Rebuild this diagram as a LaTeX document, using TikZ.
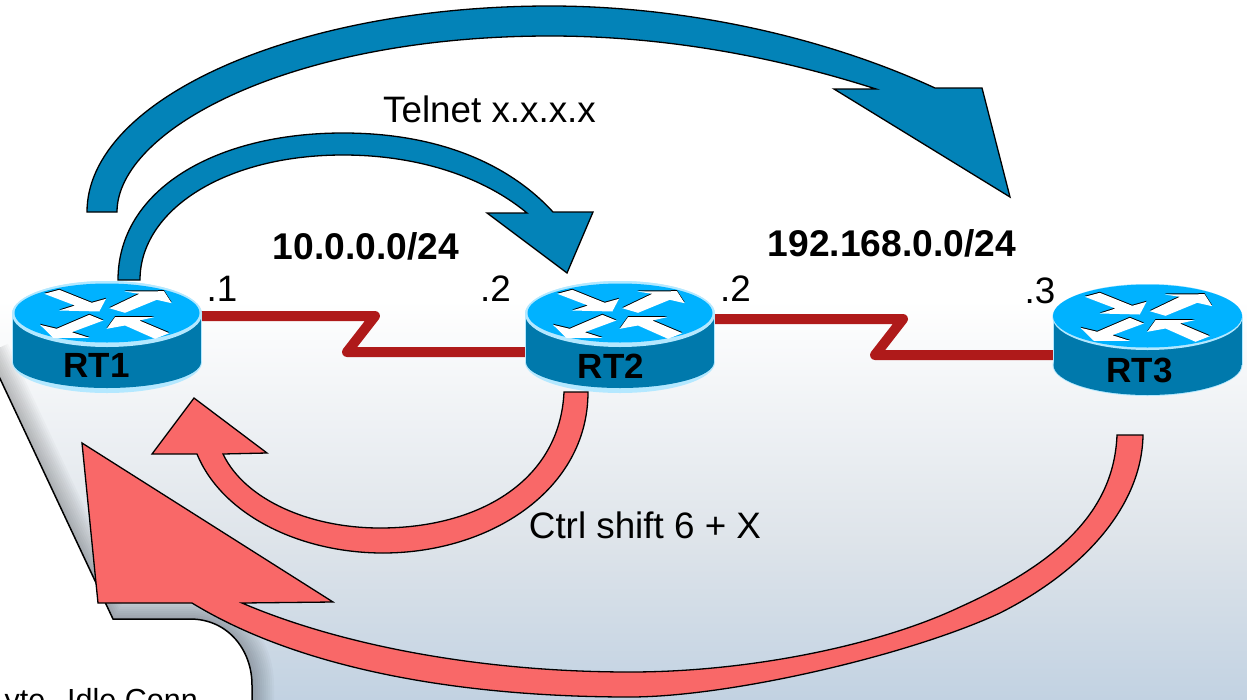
\documentclass[tikz,border=0pt]{standalone}
\usepackage{fontspec}
\setmainfont{Liberation Sans}
\definecolor{arrowblue}{HTML}{0383B8}
\definecolor{arrowred}{HTML}{F96868}
\definecolor{linkred}{HTML}{AF1A1A}
\definecolor{rtrtop}{HTML}{00B2FF}
\definecolor{rtrbody}{HTML}{0079AC}
\definecolor{rtrband}{HTML}{B4E8FF}
\definecolor{bgbottom}{HTML}{C2D2E2}
\definecolor{bgmid}{HTML}{DEE4EA}
\tikzset{
  big/.style={font=\fontsize{36.8}{40}\selectfont,inner sep=0pt,anchor=base,text=black},
  bigbold/.style={big,font=\fontsize{37.2}{40}\selectfont\bfseries},
  routertext/.style={big,font=\fontsize{35}{40}\selectfont\bfseries},
  routerbox/.style={minimum width=190pt,minimum height=112pt,inner sep=0pt},
  block/.style={draw=black,line width=1.3pt,line join=miter,miter limit=8},
  bluearrow/.style={block,fill=arrowblue},
  redarrow/.style={block,fill=arrowred},
  serial/.style={draw=linkred,line width=10pt,line join=round},
}
\newcommand{\arrowshape}[1]{%
  \fill[#1] (-62.7,-19.7)--(-47.7,-23.7)--(-15.3,-10.7)--(-1,-14.7)--(-7.7,-2)--(-47.7,-3)--(-32,-8)--cycle;
  \fill[#1] (2.3,-5.3)--(32.3,-19.7)--(17.3,-22)--(57,-22.3)--(64.7,-10.3)--(49.7,-13.7)--(18,-0.7)--cycle;
  \fill[#1] (-3.7,7)--(-17.7,1.3)--(-50.3,15.3)--(-67,11.3)--(-53.7,24.3)--(-17.7,24.3)--(-35.3,18.7)--cycle;
  \fill[#1] (-0.3,15.3)--(8,3.7)--(47,3.7)--(32.3,7)--(62.3,19.7)--(48,25.3)--(18,12)--cycle;
}
% #1 centre x, #2 centre y of the top face, #3 width of the pale band
\newcommand{\routericon}[3]{%
  \begin{scope}[shift={(#1,#2)}]
    \fill[rtrband] (-95,1) rectangle (95,49);
    \fill[rtrband] (0,49) circle[x radius=95,y radius=31];
    \fill[rtrband] (0,1) circle[x radius=95,y radius=33];
    \fill[rtrbody] (-94,1) rectangle (94,49);
    \fill[rtrbody] (0,49) circle[x radius=94,y radius={31-#3}];
    \fill[rtrband] (0,1) circle[x radius=95,y radius=33];
    \fill[rtrtop] (0,0) circle[x radius={95-#3/2},y radius={33-#3/2-1}];
    \begin{scope}[yshift=0.5pt]
      \arrowshape{black}
    \end{scope}
    \begin{scope}[yshift=-0.5pt]
      \arrowshape{white}
    \end{scope}
  \end{scope}
}
\begin{document}
\begin{tikzpicture}[x=1pt,y=-1pt]
\useasboundingbox (0,0) rectangle (1247,699);
\clip (0,0) rectangle (1247,699);
% background of the callout
\shade[top color=white,bottom color=bgmid] (0,300) rectangle (1247,540);
\shade[top color=bgmid,bottom color=bgbottom] (0,540) rectangle (1247,699);
% soft shadow of the callout box
\foreach \w in {44,40,...,4}{
  \draw[black,opacity=0.024,line width=\w pt,line join=round]
    (-12,353) -- (113,619) -- (190,619) .. controls (228,619) and (252,650) .. (252,685) -- (252,710);
}
% callout box
\filldraw[fill=white,draw=black,line width=1.5pt]
  (-12,353) -- (113,619) -- (190,619) .. controls (228,619) and (252,650) .. (252,685) -- (252,710) -- (-12,710) -- cycle;
\node[big,anchor=base east,font=\fontsize{30.5}{34}\selectfont] (sessions) at (198,710) {yte\hspace{22pt}Idle Conn};
% routers (placement)
\node[routerbox] (rt1) at (107,337) {};
\node[routerbox] (rt2) at (620,337) {};
\node[routerbox] (rt3) at (1147.5,339) {};
% serial links
\coordinate (za) at (375,316);
\coordinate (zb) at (347,352);
\coordinate (zc) at (903,319);
\coordinate (zd) at (875,355);
\draw[serial] (rt1 |- za) -- (za) -- (zb) -- (rt2 |- zb);
\draw[serial] (rt2 |- zc) -- (zc) -- (zd) -- (rt3 |- zd);
\routericon{107}{313}{5}
\routericon{620}{313}{5}
\routericon{1147.5}{316}{1}
\node[routertext] (rt1t) at (96.5,377) {RT1};
\node[routertext] (rt2t) at (611,378) {RT2};
\node[routertext] (rt3t) at (1139.5,382) {RT3};
% block arrows
\path[redarrow] (564,392) .. controls (560,480) and (480,528) .. (380,528)
  .. controls (310,528) and (245,500) .. (223,454) -- (267,453) -- (194,398) -- (152,454) -- (197,454)
  .. controls (222,515) and (300,553) .. (383,553)
  .. controls (490,553) and (588,490) .. (588,392) -- cycle;
\path[redarrow] (1117,435) .. controls (1114,510) and (1060,562) .. (960,607)
  .. controls (880,645) and (750,672) .. (630,672)
  .. controls (480,672) and (340,645) .. (242,603) -- (333,602) -- (82,443) -- (98,603) -- (192,603)
  .. controls (310,675) and (480,697) .. (630,697)
  .. controls (730,697) and (910,655) .. (1000,613)
  .. controls (1085,570) and (1142,505) .. (1143,435) -- cycle;
\path[bluearrow] (87,212) .. controls (87,99) and (295,6) .. (550,6)
  .. controls (680,6) and (820,35) .. (935,88) -- (982,88) -- (1010,197) -- (834,89) -- (876,89)
  .. controls (770,55) and (660,36) .. (550,36)
  .. controls (290,36) and (117,130) .. (117,212) -- cycle;
\path[bluearrow] (118,280) .. controls (118,190) and (215,133) .. (343,133)
  .. controls (440,133) and (510,165) .. (553,212) -- (593,212) -- (567,273) -- (487,213) -- (527,213)
  .. controls (485,178) and (420,155) .. (343,155)
  .. controls (225,155) and (140,210) .. (140,280) -- cycle;
% labels
\node[big] (telnet) at (489.5,122) {Telnet x.x.x.x};
\node[big] (ctrl) at (645,538) {Ctrl shift 6 + X};
\node[bigbold] (neta) at (366,259) {10.0.0.0/24};
\node[bigbold] (netb) at (892,256) {192.168.0.0/24};
\node[big] (d1) at (222,301) {.1};
\node[big] (d2) at (495.5,301) {.2};
\node[big] (d3) at (735.5,301) {.2};
\node[big] (d4) at (1040,303) {.3};
\end{tikzpicture}
\end{document}
